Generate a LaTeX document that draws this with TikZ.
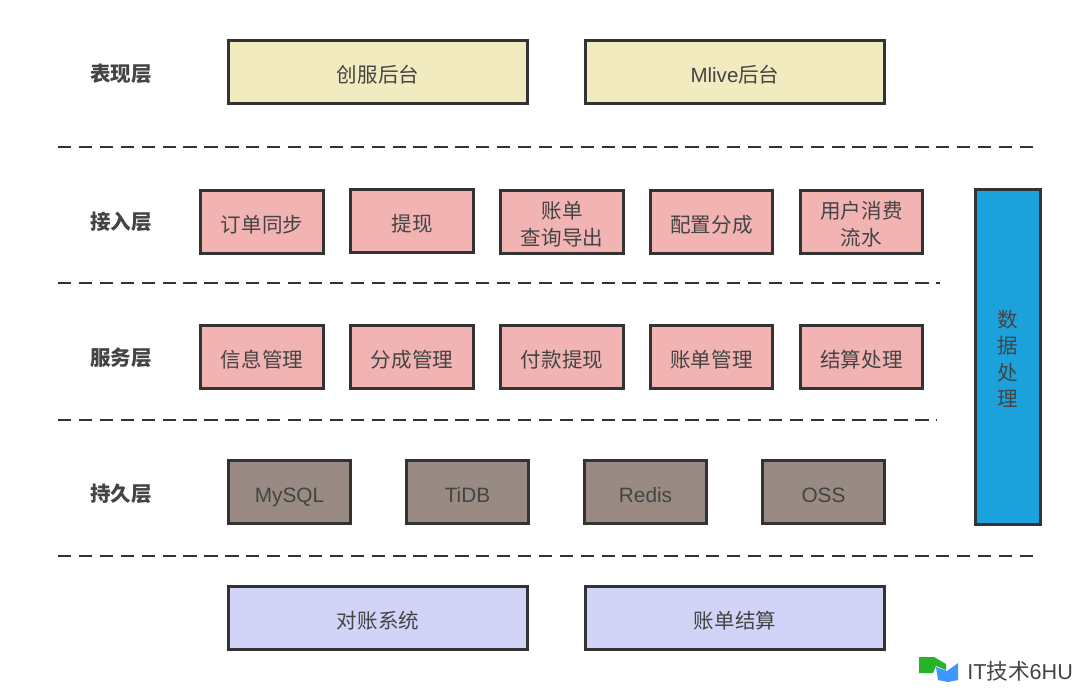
\documentclass[tikz,border=0pt]{standalone}
\usepackage{fontspec}
\setmainfont{Liberation Sans}
\newfontfamily\cjk{Noto Sans CJK SC}
\definecolor{yellowbox}{HTML}{F2EBC0}
\definecolor{pinkbox}{HTML}{F2B3B3}
\definecolor{brownbox}{HTML}{9A8A84}
\definecolor{bluebox}{HTML}{D2D4F7}
\definecolor{databox}{HTML}{1BA1DC}
\definecolor{linegray}{HTML}{333333}
\definecolor{textgray}{HTML}{444444}
\newcommand{\firstline}{\rule[-3.2pt]{0pt}{22pt}}
\newcommand{\lowered}[1]{\raisebox{-2.6pt}[\height][\depth]{#1}}
\begin{document}
\begin{tikzpicture}[x=0.75pt,y=-0.75pt]
	\tikzstyle{unit}=[draw=linegray,line width=2.2pt,minimum height=47.6pt,inner sep=0pt,align=center,font=\cjk\fontsize{15.4}{20.3}\selectfont,text=textgray,execute at begin node={\firstline}]
	\tikzstyle{wide}=[unit,minimum width=224.4pt]
	\tikzstyle{narrow}=[unit,minimum width=92pt,fill=pinkbox]
	\tikzstyle{store}=[unit,minimum width=92pt,fill=brownbox,font=\rmfamily\fontsize{15.6}{18}\selectfont]
	\tikzstyle{layer}=[font=\cjk\bfseries\fontsize{15.4}{18}\selectfont,text=textgray]
	\tikzstyle{sep}=[draw=linegray,line width=1.9pt,dash pattern=on 10pt off 5.68pt]

	\useasboundingbox (0,0) rectangle (1080,690);

	\node[layer](l1) at (121,73.5){表现层};
	\node[layer](l2) at (121,221.5){接入层};
	\node[layer](l3) at (121,357.5){服务层};
	\node[layer](l4) at (121,493.5){持久层};

	\node[wide,fill=yellowbox](chuangfu) at (378,72){创服后台};
	\node[wide,fill=yellowbox](mlive) at (735,72){{\rmfamily Mlive}后台};

	\node[narrow](sync) at (262,222){订单同步};
	\node[narrow](draw) at (412,221){提现};
	\node[narrow](query) at (562,222){\lowered{账单}\\\lowered{查询导出}};
	\node[narrow](config) at (711.5,222){配置分成};
	\node[narrow](flow) at (861.5,222){\lowered{用户消费}\\\lowered{流水}};

	\node[narrow](info) at (262,357){信息管理};
	\node[narrow](share) at (412,357){分成管理};
	\node[narrow](pay) at (562,357){付款提现};
	\node[narrow](bill) at (711.5,357){账单管理};
	\node[narrow](settle) at (861.5,357){结算处理};

	\node[store](mysql) at (289.5,492){MySQL};
	\node[store](tidb) at (467.5,492){TiDB};
	\node[store](redis) at (645.5,492){Redis};
	\node[store](oss) at (823.5,492){OSS};

	\node[wide,fill=bluebox](recon) at (378,618){对账系统};
	\node[wide,fill=bluebox](billing) at (735,618){账单结算};

	\node[unit,fill=databox,minimum width=48.6pt,minimum height=251pt,font=\cjk\fontsize{15.4}{19.6}\selectfont](data) at (1008,357){\lowered{数}\\\lowered{据}\\\lowered{处}\\\lowered{理}};

	% separators
	\coordinate (s1a) at (58,147);
	\coordinate (s1b) at (1034,147);
	\coordinate (s2a) at (58,283);
	\coordinate (s2b) at (940,283);
	\coordinate (s3a) at (58,420);
	\coordinate (s3b) at (937,420);
	\coordinate (s4a) at (58,556);
	\coordinate (s4b) at (1034,556);
	\draw[sep] (s1a) -- (s1b);
	\draw[sep] (s2a) -- (s2b);
	\draw[sep] (s3a) -- (s3b);
	\draw[sep] (s4a) -- (s4b);

	% watermark
	\fill[green!65!black!85!white] (919,657) -- (934,657) -- (946,664) -- (946,670) -- (936,666) -- (933,673) -- (919,673) -- cycle;
	\fill[blue!55!cyan!75!white] (936,667) -- (947,671) -- (958,663) -- (958,680) -- (948,682) -- (938,680) -- cycle;
	\node[font=\rmfamily\fontsize{16.2}{18}\selectfont,text=textgray,inner sep=0pt,anchor=west](mark) at (967,671){IT{\cjk 技术}6HU};
\end{tikzpicture}
\end{document}
